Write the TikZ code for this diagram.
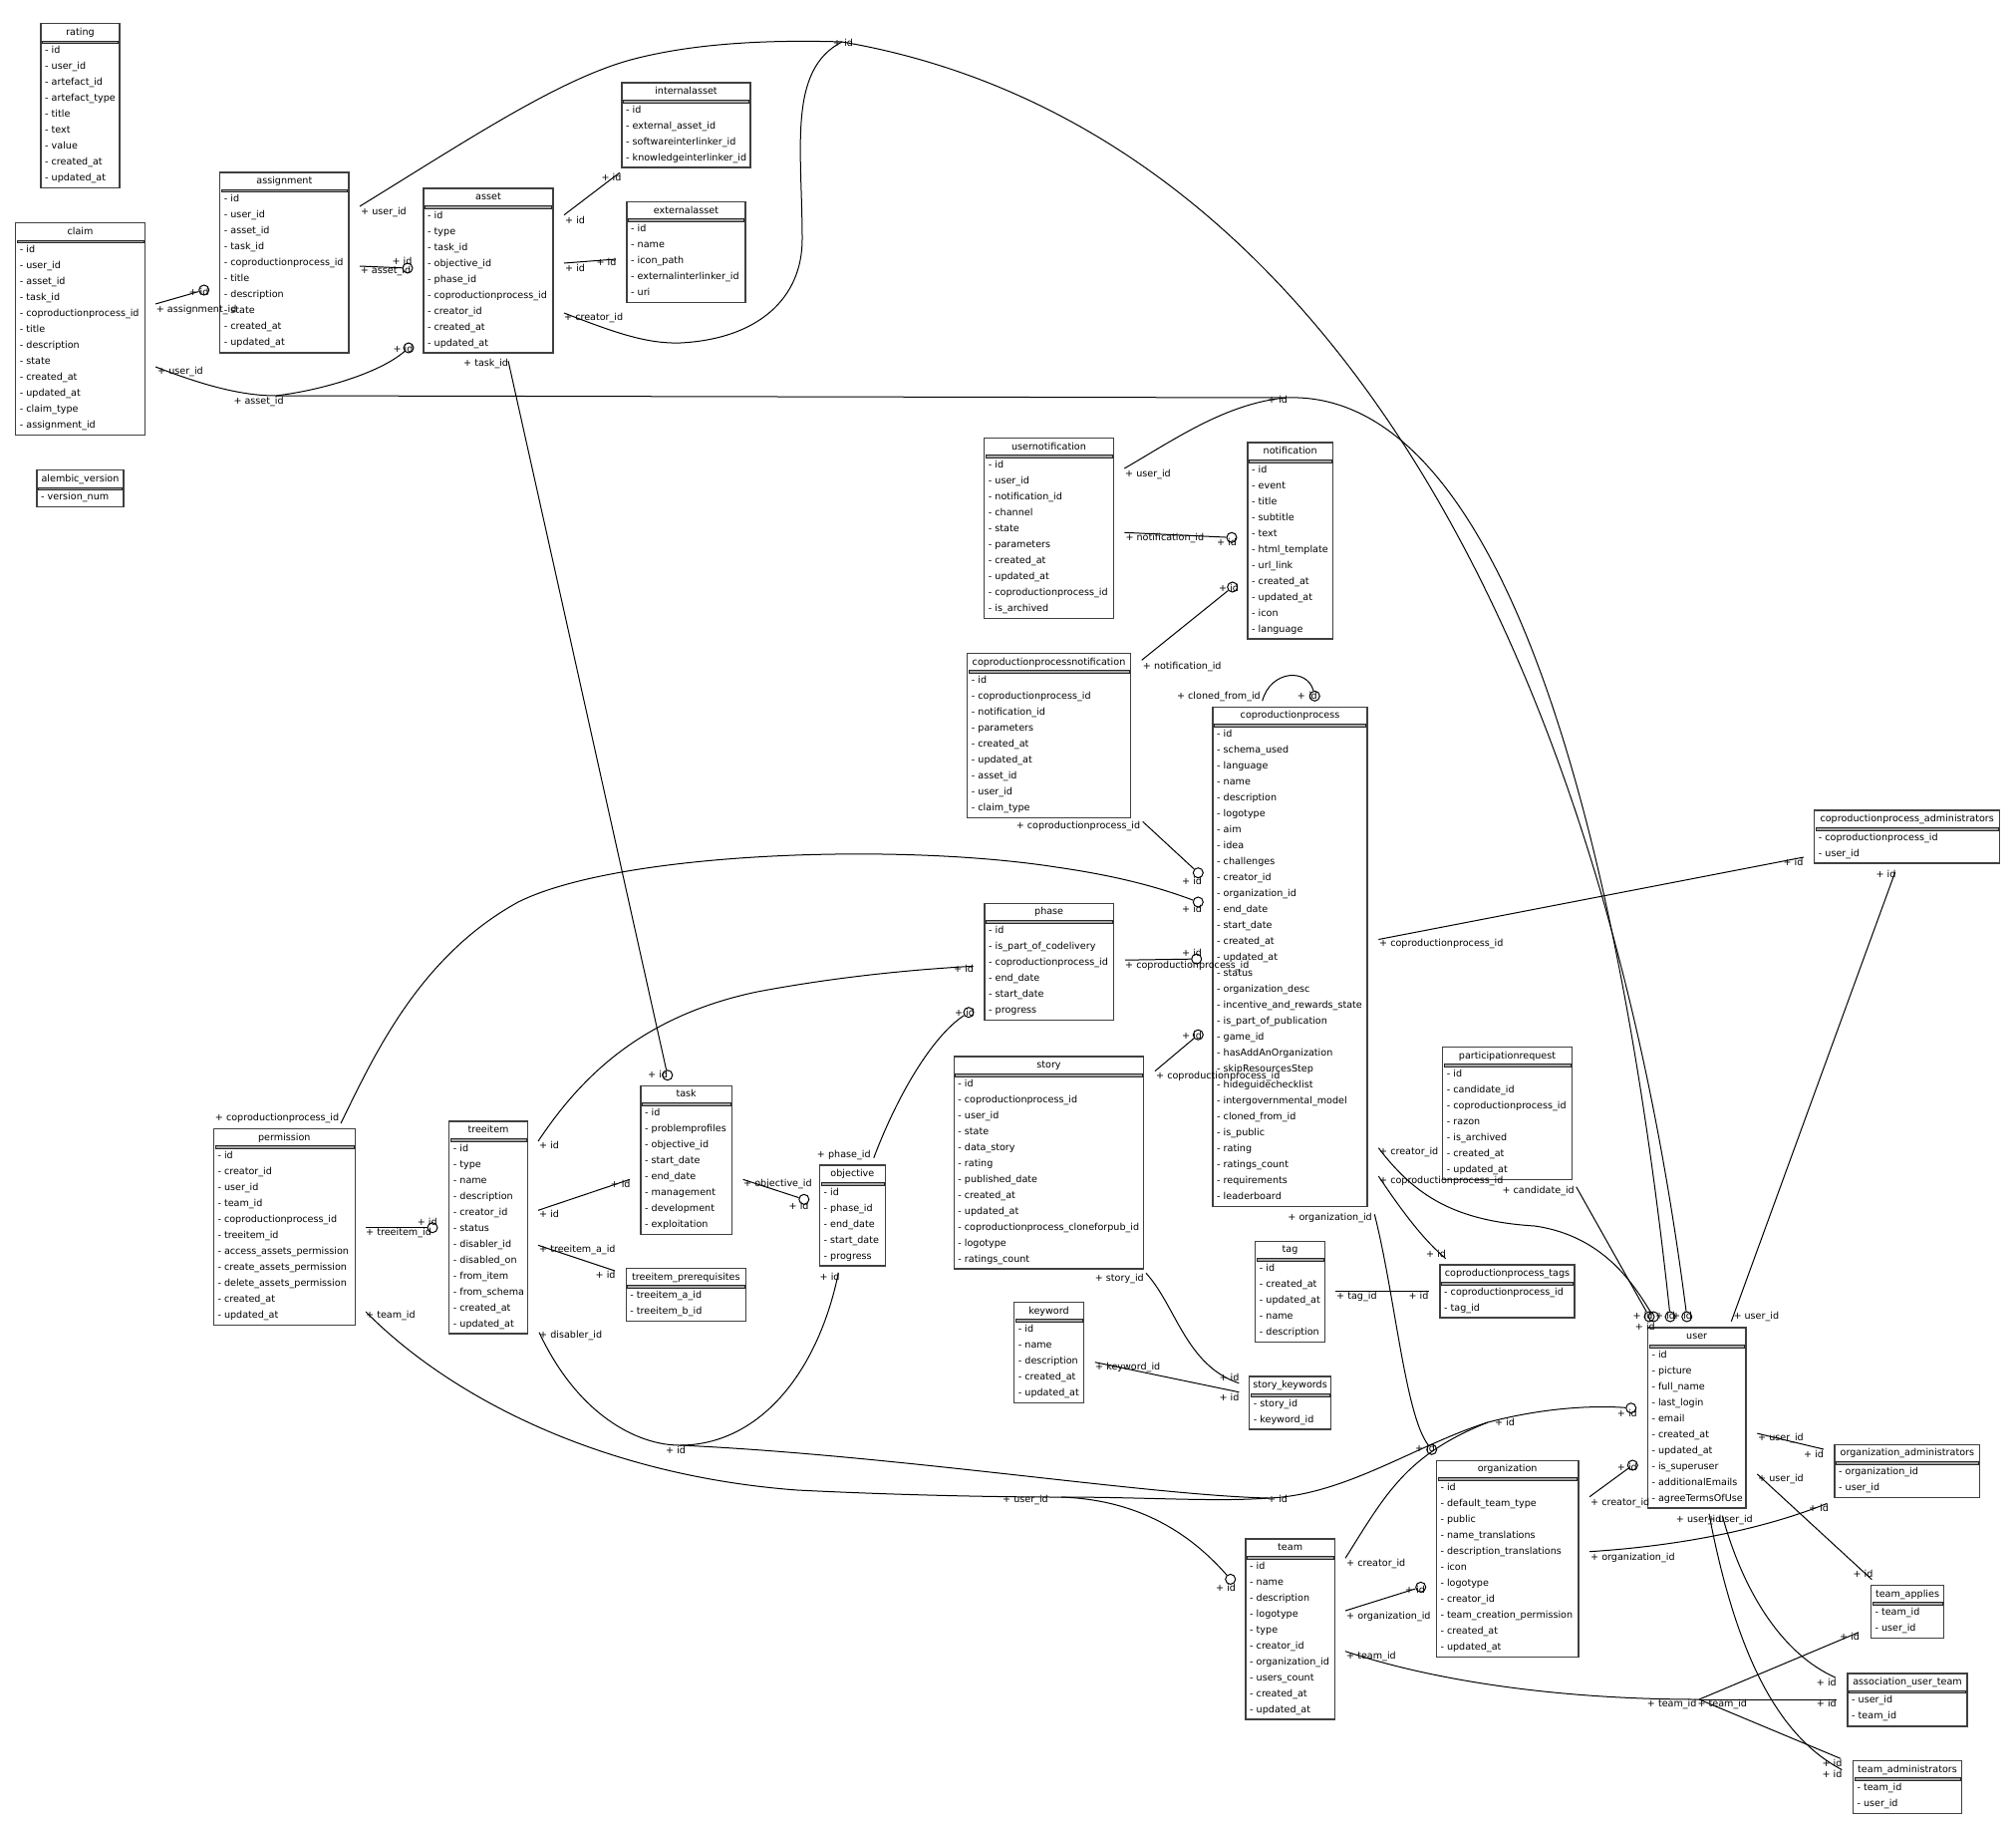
\documentclass[tikz,border=0pt]{standalone}
\usepackage{fontspec}
\setmainfont{DejaVu Sans}
\catcode`\_=12
\newcommand\ertxt{\fontsize{9.6}{11}\selectfont}
\tikzset{
 tblbox/.style={draw=black!75, line width=1.3pt, inner sep=0pt, rectangle},
 ttl/.style={font=\ertxt, inner sep=0pt, text height=7pt, text depth=0pt},
 rowt/.style={font=\ertxt, inner sep=0pt, anchor=west, text height=7pt, text depth=0pt},
 sepbar/.style={draw=black!85, fill=black!35, line width=0.6pt},
 edge/.style={draw=black, line width=1pt},
 lbl/.style={font=\ertxt, inner sep=0pt, anchor=west, text height=7pt, text depth=0pt},
 lble/.style={font=\ertxt, inner sep=0pt, anchor=east, text height=7pt, text depth=0pt},
 odot/.style={circle, draw=black, line width=1pt, minimum size=10pt, inner sep=0pt},
}
% name, title, left, right, top, rows
\newcommand\ertable[6]{%
  \node[ttl] (#1-t) at ({(#3+#4)/2},{#5+8}) {#2};
  \foreach \r [count=\k from 0] in {#6} {%
    \node[rowt] (#1-r\k) at ({#3+4},{#5+26.5+16*\k}) {- \r};
    \xdef\ernrows{\k}%
  }%
  \pgfmathsetmacro\erB{#5+37+16*\ernrows}%
  \node[tblbox, minimum width={(#4-#3)*1pt}, minimum height={(\erB-#5)*1pt}] (#1) at ({(#3+#4)/2},{(#5+\erB)/2}) {};
  \draw[sepbar] ({#3+1.5},{#5+17}) rectangle ({#4-1.5},{#5+19.8});
}
\begin{document}
\begin{tikzpicture}[x=1pt,y=-1pt]
\useasboundingbox[fill=white] (0,0) rectangle (2023,1831);
% ---------------- tables
\ertable{rating}{rating}{41}{120}{23.8}{id,user_id,artefact_id,artefact_type,title,text,value,created_at,updated_at}
\ertable{claim}{claim}{15.7}{145.3}{223.8}{id,user_id,asset_id,task_id,coproductionprocess_id,title,description,state,created_at,updated_at,claim_type,assignment_id}
\ertable{assignment}{assignment}{220.7}{350}{172.9}{id,user_id,asset_id,task_id,coproductionprocess_id,title,description,state,created_at,updated_at}
\ertable{alembic}{alembic_version}{37}{124}{471.8}{version_num}
\ertable{asset}{asset}{425}{555}{189}{id,type,task_id,objective_id,phase_id,coproductionprocess_id,creator_id,created_at,updated_at}
\ertable{internalasset}{internalasset}{624}{753}{83}{id,external_asset_id,softwareinterlinker_id,knowledgeinterlinker_id}
\ertable{externalasset}{externalasset}{629}{748}{202.7}{id,name,icon_path,externalinterlinker_id,uri}
\ertable{usernotification}{usernotification}{987.7}{1117.3}{439.7}{id,user_id,notification_id,channel,state,parameters,created_at,updated_at,coproductionprocess_id,is_archived}
\ertable{notification}{notification}{1252}{1337.3}{444}{id,event,title,subtitle,text,html_template,url_link,created_at,updated_at,icon,language}
\ertable{cpnotification}{coproductionprocessnotification}{970.7}{1134.3}{655.7}{id,coproductionprocess_id,notification_id,parameters,created_at,updated_at,asset_id,user_id,claim_type}
\ertable{cp}{coproductionprocess}{1217}{1372}{709.3}{id,schema_used,language,name,description,logotype,aim,idea,challenges,creator_id,organization_id,end_date,start_date,created_at,updated_at,status,organization_desc,incentive_and_rewards_state,is_part_of_publication,game_id,hasAddAnOrganization,skipResourcesStep,hideguidechecklist,intergovernmental_model,cloned_from_id,is_public,rating,ratings_count,requirements,leaderboard}
\ertable{cpadmins}{coproductionprocess_administrators}{1820.7}{2006.7}{813}{coproductionprocess_id,user_id}
\ertable{phase}{phase}{988}{1117.3}{906.4}{id,is_part_of_codelivery,coproductionprocess_id,end_date,start_date,progress}
\ertable{story}{story}{957.2}{1147.8}{1060}{id,coproductionprocess_id,user_id,state,data_story,rating,published_date,created_at,updated_at,coproductionprocess_cloneforpub_id,logotype,ratings_count}
\ertable{permission}{permission}{214.3}{356.4}{1132.7}{id,creator_id,user_id,team_id,coproductionprocess_id,treeitem_id,access_assets_permission,create_assets_permission,delete_assets_permission,created_at,updated_at}
\ertable{treeitem}{treeitem}{450.7}{529.3}{1125}{id,type,name,description,creator_id,status,disabler_id,disabled_on,from_item,from_schema,created_at,updated_at}
\ertable{task}{task}{643}{734.3}{1089.2}{id,problemprofiles,objective_id,start_date,end_date,management,development,exploitation}
\ertable{prereq}{treeitem_prerequisites}{628.2}{748.6}{1272.7}{treeitem_a_id,treeitem_b_id}
\ertable{objective}{objective}{822.5}{888.3}{1169}{id,phase_id,end_date,start_date,progress}
\ertable{keyword}{keyword}{1017.7}{1087.3}{1306.7}{id,name,description,created_at,updated_at}
\ertable{partreq}{participationrequest}{1447.7}{1577.3}{1050.7}{id,candidate_id,coproductionprocess_id,razon,is_archived,created_at,updated_at}
\ertable{tag}{tag}{1259.7}{1329.3}{1245.3}{id,created_at,updated_at,name,description}
\ertable{cptags}{coproductionprocess_tags}{1445}{1580}{1269}{coproductionprocess_id,tag_id}
\ertable{storykw}{story_keywords}{1253.7}{1335.3}{1381}{story_id,keyword_id}
\ertable{organization}{organization}{1441.3}{1584}{1465.3}{id,default_team_type,public,name_translations,description_translations,icon,logotype,creator_id,team_creation_permission,created_at,updated_at}
\ertable{team}{team}{1250}{1339.3}{1544}{id,name,description,logotype,type,creator_id,organization_id,users_count,created_at,updated_at}
\ertable{user}{user}{1653.3}{1752}{1332}{id,picture,full_name,last_login,email,created_at,updated_at,is_superuser,additionalEmails,agreeTermsOfUse}
\ertable{orgadmins}{organization_administrators}{1841}{1986.7}{1449.4}{organization_id,user_id}
\ertable{teamapplies}{team_applies}{1877.3}{1950.7}{1590.6}{team_id,user_id}
\ertable{aut}{association_user_team}{1854}{1974}{1678.9}{user_id,team_id}
\ertable{teamadmins}{team_administrators}{1859.3}{1968.7}{1766.7}{team_id,user_id}
% ---------------- circles (odot ends)
\node[odot] (o-claimassign) at (204.7,291) {};
\node[odot] (o-assignasset) at (409,269) {};
\node[odot] (o-claimasset) at (410,349) {};
\node[odot] (o-task) at (669.8,1078.7) {};
\node[odot] (o-notif1) at (1236,539.3) {};
\node[odot] (o-notif2) at (1236.7,589) {};
\node[odot] (o-cpself) at (1319.3,698.3) {};
\node[odot] (o-cp1) at (1202.3,875.7) {};
\node[odot] (o-cp2) at (1202.3,905) {};
\node[odot] (o-cp3) at (1200.7,962.1) {};
\node[odot] (o-cp4) at (1202.3,1038.2) {};
\node[odot] (o-phase) at (972,1015.7) {};
\node[odot] (o-objective) at (806.8,1203.3) {};
\node[odot] (o-tree) at (434,1231.7) {};
\node[odot] (o-org) at (1436.7,1454.3) {};
\node[odot] (o-org2) at (1425.7,1592.3) {};
\node[odot] (o-team) at (1234.7,1584.4) {};
\node[odot] (o-user1) at (1636.7,1412.7) {};
\node[odot] (o-user2) at (1638.3,1470) {};
\node[odot] (o-ut1) at (1655,1321) {};
\node[odot] (o-ut2) at (1659.3,1321) {};
\node[odot] (o-ut3) at (1676,1321) {};
\node[odot] (o-ut4) at (1692.7,1321) {};
% ---------------- free ends
\coordinate (a-u) at (361,207);
\coordinate (a-a) at (361,267);
\coordinate (top) at (845,42);
\coordinate (s-cr) at (566,314);
\coordinate (s-id1) at (566,215.7);
\coordinate (s-id2) at (566,264);
\coordinate (ia) at (621.7,173.3);
\coordinate (ea) at (618,260);
\coordinate (s-task) at (510,362);
\coordinate (c-as) at (156,305);
\coordinate (c-us) at (156,368);
\coordinate (c-j) at (276.7,397);
\coordinate (c-end) at (1290,399);
\coordinate (un-n) at (1128.3,534.3);
\coordinate (un-u) at (1128.3,470);
\coordinate (cpn-n) at (1145.7,662.3);
\coordinate (cpn-c) at (1146.7,824.3);
\coordinate (cp-self) at (1266.7,703.3);
\coordinate (pm-c) at (342,1127);
\coordinate (ph-c) at (1129,963.2);
\coordinate (st-c) at (1159,1074.6);
\coordinate (cp-a) at (1383.3,942.5);
\coordinate (cpa-in) at (1810,860);
\coordinate (cpa-out) at (1901.7,875);
\coordinate (u-top) at (1737.3,1325.7);
\coordinate (pr-c) at (1581.7,1190.7);
\coordinate (cp-cr) at (1383.3,1151.7);
\coordinate (cp-cp) at (1383.3,1180);
\coordinate (cpt-in) at (1450.7,1262.7);
\coordinate (cp-org) at (1379.3,1218.3);
\coordinate (tg-o) at (1340,1295);
\coordinate (cpt-in2) at (1434.3,1295);
\coordinate (st-s) at (1150,1277.3);
\coordinate (sk-in1) at (1243.3,1387.7);
\coordinate (kw-o) at (1098.8,1366.7);
\coordinate (sk-in2) at (1243.3,1396.7);
\coordinate (tk-o) at (745.6,1183.3);
\coordinate (ob-p) at (876.8,1161.7);
\coordinate (ob-i) at (841.3,1277.3);
\coordinate (ti-p) at (540,1145);
\coordinate (ph-in) at (976.7,969.3);
\coordinate (ti-t) at (540,1214.3);
\coordinate (tk-in) at (632,1183.3);
\coordinate (ti-a) at (540,1249.3);
\coordinate (pq-in) at (617,1275);
\coordinate (ti-d) at (541,1336.7);
\coordinate (jn) at (682,1450);
\coordinate (jn2) at (1273,1503);
\coordinate (jn3) at (1493,1427);
\coordinate (pm-t) at (367,1231.7);
\coordinate (pm-tm) at (367,1316);
\coordinate (pm-sp) at (1065,1502);
\coordinate (org-c) at (1595,1501.7);
\coordinate (org-o) at (1595,1556.7);
\coordinate (oa-in) at (1833.3,1508.4);
\coordinate (u-oa) at (1763.3,1438.1);
\coordinate (oa-in2) at (1830,1454);
\coordinate (u-ta) at (1763.3,1478.9);
\coordinate (ta-in) at (1878.3,1584.7);
\coordinate (u-b1) at (1728.3,1520.7);
\coordinate (aut-in) at (1841.7,1683);
\coordinate (u-b2) at (1715,1519);
\coordinate (tad-in) at (1848.3,1775.5);
\coordinate (tm-t) at (1350,1656.7);
\coordinate (tj) at (1705,1705);
\coordinate (ta-in2) at (1865,1637.7);
\coordinate (aut-in2) at (1843.3,1705);
\coordinate (tad-in2) at (1846.7,1764.2);
\coordinate (tm-o) at (1350,1616);
\coordinate (tm-c) at (1350,1563.3);
% ---------------- edges
\draw[edge] (a-u) .. controls (470,140) and (560,80) .. (633,60) .. controls (700,42) and (780,40) .. (top);
\draw[edge] (s-cr) .. controls (620,335) and (650,345) .. (683,344) .. controls (760,340) and (805,300) .. (805,240) .. controls (805,150) and (790,70) .. (top);
\draw[edge] (top) .. controls (1300,120) and (1600,600) .. (o-ut4);
\draw[edge] (a-a) -- (o-assignasset);
\draw[edge] (c-as) -- (o-claimassign);
\draw[edge] (c-us) .. controls (200,385) and (240,397) .. (c-j);
\draw[edge] (c-j) .. controls (320,392) and (380,375) .. (o-claimasset);
\draw[edge] (c-j) -- (c-end);
\draw[edge] (un-u) .. controls (1180,440) and (1230,405) .. (c-end);
\draw[edge] (c-end) .. controls (1500,390) and (1620,800) .. (o-ut3);
\draw[edge] (s-id1) -- (ia);
\draw[edge] (s-id2) -- (ea);
\draw[edge] (s-task) -- (o-task);
\draw[edge] (un-n) -- (o-notif1);
\draw[edge] (cpn-n) -- (o-notif2);
\draw[edge] (cp-self) .. controls (1275,672) and (1312,670) .. (o-cpself);
\draw[edge] (cpn-c) -- (o-cp1);
\draw[edge] (pm-c) .. controls (375,1060) and (420,960) .. (520,905) .. controls (620,855) and (900,845) .. (1060,870) .. controls (1130,880) and (1170,893) .. (o-cp2);
\draw[edge] (ph-c) -- (o-cp3);
\draw[edge] (st-c) -- (o-cp4);
\draw[edge] (cp-a) -- (cpa-in);
\draw[edge] (cpa-out) -- (u-top);
\draw[edge] (pr-c) -- (o-ut1);
\draw[edge] (cp-cr) .. controls (1420,1200) and (1460,1225) .. (1540,1230) .. controls (1610,1240) and (1640,1290) .. (o-ut2);
\draw[edge] (cp-cp) .. controls (1410,1220) and (1430,1245) .. (cpt-in);
\draw[edge] (cp-org) .. controls (1400,1300) and (1410,1420) .. (o-org);
\draw[edge] (tg-o) -- (cpt-in2);
\draw[edge] (st-s) .. controls (1180,1310) and (1190,1370) .. (sk-in1);
\draw[edge] (kw-o) -- (sk-in2);
\draw[edge] (tk-o) -- (o-objective);
\draw[edge] (ob-p) .. controls (900,1100) and (935,1040) .. (o-phase);
\draw[edge] (ti-p) .. controls (580,1085) and (640,1020) .. (760,995) .. controls (850,978) and (930,972) .. (ph-in);
\draw[edge] (ti-t) -- (tk-in);
\draw[edge] (ti-a) -- (pq-in);
\draw[edge] (pm-t) -- (o-tree);
\draw[edge] (ti-d) .. controls (580,1420) and (640,1450) .. (jn);
\draw[edge] (ob-i) .. controls (820,1380) and (760,1450) .. (jn);
\draw[edge] (jn) .. controls (900,1460) and (1150,1500) .. (jn2) .. controls (1350,1500) and (1420,1450) .. (jn3) .. controls (1550,1412) and (1600,1410) .. (o-user1);
\draw[edge] (pm-tm) .. controls (450,1400) and (600,1480) .. (800,1495) .. controls (900,1500) and (1000,1502) .. (pm-sp);
\draw[edge] (pm-sp) .. controls (1150,1505) and (1200,1545) .. (o-team);
\draw[edge] (pm-sp) .. controls (1150,1502) and (1220,1507) .. (jn2);
\draw[edge] (tm-c) .. controls (1390,1500) and (1410,1460) .. (jn3);
\draw[edge] (org-c) -- (o-user2);
\draw[edge] (org-o) .. controls (1700,1550) and (1780,1530) .. (oa-in);
\draw[edge] (u-oa) -- (oa-in2);
\draw[edge] (u-ta) -- (ta-in);
\draw[edge] (u-b1) .. controls (1750,1600) and (1790,1660) .. (aut-in);
\draw[edge] (u-b2) .. controls (1740,1650) and (1780,1740) .. (tad-in);
\draw[edge] (tm-t) .. controls (1450,1690) and (1580,1705) .. (tj);
\draw[edge] (tj) -- (ta-in2);
\draw[edge] (tj) -- (aut-in2);
\draw[edge] (tj) -- (tad-in2);
\draw[edge] (tm-o) -- (o-org2);
% ---------------- labels
\node[lbl] (l1) at (362,212) {+ user_id};
\node[lbl] (l2) at (836,43) {+ id};
\node[lbl] (l3) at (566,318) {+ creator_id};
\node[lbl] (l4) at (393.3,262.3) {+ id};
\node[lbl] (l5) at (361.7,270.7) {+ asset_id};
\node[lbl] (l6) at (189.3,292.7) {+ id};
\node[lbl] (l7) at (156.7,310) {+ assignment_id};
\node[lbl] (l8) at (158,371.6) {+ user_id};
\node[lbl] (l9) at (394.3,350) {+ id};
\node[lbl] (l10) at (234.3,401.7) {+ asset_id};
\node[lbl] (l11) at (1272,401) {+ id};
\node[lbl] (l12) at (465,364.3) {+ task_id};
\node[lbl] (l13) at (650,1078) {+ id};
\node[lbl] (l14) at (567,220.7) {+ id};
\node[lbl] (l15) at (603.3,177.7) {+ id};
\node[lbl] (l16) at (567,268.7) {+ id};
\node[lbl] (l17) at (598.3,263.3) {+ id};
\node[lbl] (l18) at (1129.3,538.7) {+ notification_id};
\node[lbl] (l19) at (1221,544) {+ id};
\node[lbl] (l20) at (1146.7,667.7) {+ notification_id};
\node[lbl] (l21) at (1223,590) {+ id};
\node[lbl] (l22) at (1129,474.7) {+ user_id};
\node[lble] (l23) at (1265,697.7) {+ cloned_from_id};
\node[lbl] (l24) at (1301.7,698) {+ id};
\node[lble] (l25) at (1144.3,827.5) {+ coproductionprocess_id};
\node[lbl] (l26) at (1186,883.6) {+ id};
\node[lble] (l27) at (340.4,1120.7) {+ coproductionprocess_id};
\node[lbl] (l28) at (1186,912) {+ id};
\node[lbl] (l29) at (1129,967.9) {+ coproductionprocess_id};
\node[lbl] (l30) at (1186,955.7) {+ id};
\node[lbl] (l31) at (1160,1079.3) {+ coproductionprocess_id};
\node[lbl] (l32) at (1186,1039) {+ id};
\node[lbl] (l33) at (1384,946) {+ coproductionprocess_id};
\node[lbl] (l34) at (1789.3,865) {+ id};
\node[lbl] (l35) at (1882.3,876.7) {+ id};
\node[lbl] (l36) at (1739.3,1319.7) {+ user_id};
\node[lble] (l37) at (1580,1194) {+ candidate_id};
\node[lbl] (l38) at (1384,1154.7) {+ creator_id};
\node[lbl] (l39) at (1384,1184) {+ coproductionprocess_id};
\node[lbl] (l40) at (1431,1258.3) {+ id};
\node[lble] (l41) at (1377,1221) {+ organization_id};
\node[lbl] (l42) at (1420,1453) {+ id};
\node[lbl] (l43) at (1341,1299.7) {+ tag_id};
\node[lbl] (l44) at (1413.3,1299.7) {+ id};
\node[lble] (l45) at (1148,1281.7) {+ story_id};
\node[lbl] (l46) at (1223.3,1381.7) {+ id};
\node[lbl] (l47) at (1099,1371) {+ keyword_id};
\node[lbl] (l48) at (1223.3,1401.7) {+ id};
\node[lbl] (l49) at (746,1186.7) {+ objective_id};
\node[lbl] (l50) at (791.5,1210) {+ id};
\node[lble] (l51) at (873.8,1157.7) {+ phase_id};
\node[lbl] (l52) at (958,1016) {+ id};
\node[lbl] (l53) at (541,1149.3) {+ id};
\node[lbl] (l54) at (957,972) {+ id};
\node[lbl] (l55) at (541,1218.3) {+ id};
\node[lbl] (l56) at (612.5,1187.7) {+ id};
\node[lbl] (l57) at (541,1253.3) {+ treeitem_a_id};
\node[lbl] (l58) at (597.5,1279.3) {+ id};
\node[lbl] (l59) at (418.6,1225.7) {+ id};
\node[lbl] (l60) at (367,1235.7) {+ treeitem_id};
\node[lbl] (l61) at (541,1339.3) {+ disabler_id};
\node[lbl] (l62) at (822.5,1280.7) {+ id};
\node[lbl] (l63) at (668,1455) {+ id};
\node[lbl] (l64) at (367,1319.3) {+ team_id};
\node[lbl] (l65) at (1006,1504) {+ user_id};
\node[lbl] (l66) at (1272,1504) {+ id};
\node[lbl] (l67) at (1220,1593) {+ id};
\node[lbl] (l68) at (1500,1427) {+ id};
\node[lbl] (l69) at (1622.7,1417.7) {+ id};
\node[lbl] (l70) at (1596,1506.7) {+ creator_id};
\node[lbl] (l71) at (1622.7,1471.7) {+ id};
\node[lbl] (l72) at (1596,1561.7) {+ organization_id};
\node[lbl] (l73) at (1815,1512.6) {+ id};
\node[lbl] (l74) at (1764,1441.6) {+ user_id};
\node[lbl] (l75) at (1810,1459.2) {+ id};
\node[lbl] (l76) at (1764,1482.8) {+ user_id};
\node[lbl] (l77) at (1859.3,1578.7) {+ id};
\node[lbl] (l78) at (1681.7,1524.2) {+ user_id};
\node[lbl] (l79) at (1713,1524.2) {+ user_id};
\node[lbl] (l80) at (1822.7,1687.6) {+ id};
\node[lbl] (l81) at (1828.3,1779.7) {+ id};
\node[lbl] (l82) at (1351,1660.7) {+ team_id};
\node[lbl] (l83) at (1652.7,1709) {+ team_id};
\node[lbl] (l84) at (1703.3,1709) {+ team_id};
\node[lbl] (l85) at (1846,1642) {+ id};
\node[lbl] (l86) at (1822.7,1709.4) {+ id};
\node[lbl] (l87) at (1828.3,1769.2) {+ id};
\node[lbl] (l88) at (1351,1621) {+ organization_id};
\node[lbl] (l89) at (1410,1595) {+ id};
\node[lbl] (l90) at (1351,1567.7) {+ creator_id};
\node[lbl] (l91) at (1638.3,1320) {+ id};
\node[lbl] (l92) at (1661,1320) {+ id};
\node[lbl] (l93) at (1678,1320) {+ id};
\node[lbl] (l94) at (1640.7,1331) {+ id};
\end{tikzpicture}
\end{document}
